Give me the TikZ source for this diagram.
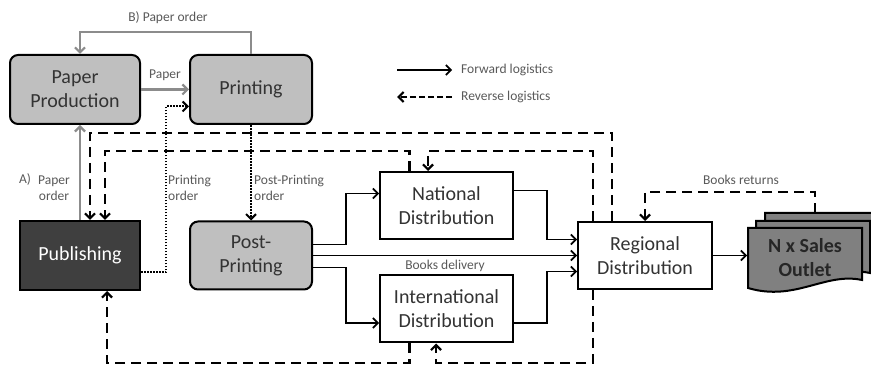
\documentclass[tikz,border=0pt]{standalone}
\usepackage{fontspec}
\setmainfont{Carlito}
\usetikzlibrary{arrows.meta}
\definecolor{boxgray}{HTML}{BFBFBF}
\definecolor{pubgray}{HTML}{3F3F3F}
\definecolor{outgray}{HTML}{808080}
\definecolor{linegray}{HTML}{8C8C8C}
\definecolor{txtgray}{HTML}{595959}
\definecolor{boxtxt}{HTML}{333333}

\newcommand{\salesdoc}[2]{%
	\filldraw[outlet, shift={(#1,#2)}] (748,228) -- (862,228) -- (862,280) .. controls (825,272) and (795,302) .. (748,288) -- cycle;}

\begin{document}
\begin{tikzpicture}[x=1pt, y=-1pt,
	big/.style={font=\fontsize{20}{24}\selectfont, text=boxtxt, align=center, inner sep=0pt, line width=2pt},
	stage/.style={big, draw, rounded corners=8pt, fill=boxgray},
	dist/.style={big, draw, fill=white, minimum width=133pt, minimum height=67pt},
	outlet/.style={draw, line width=2pt, fill=outgray},
	lbl/.style={font=\fontsize{13.5}{16}\selectfont, text=txtgray, align=left, inner sep=0pt},
	fwd/.style={line width=1.6pt, -{Straight Barb[length=5pt,width=10pt]}},
	rev/.style={line width=2.2pt, dash pattern=on 10pt off 6pt, -{Straight Barb[length=5pt,width=10pt]}},
	sup/.style={line width=2.2pt, draw=linegray, -{Straight Barb[length=5pt,width=10pt]}},
	ord/.style={line width=2pt, dash pattern=on 1.6pt off 1.4pt, -{Straight Barb[length=5pt,width=10pt]}}]
	\useasboundingbox (0,0) rectangle (871,366);

	\node[stage, minimum width=130pt, minimum height=69pt] (pp) at (75,89.5) {Paper\\Production};
	\node[stage, minimum width=122pt, minimum height=69pt] (prt) at (251,89.5) {Printing};
	\node[big, draw, fill=pubgray, text=white, minimum width=120pt, minimum height=69pt] (pub) at (80,255.5) {Publishing};
	\node[stage, minimum width=122pt, minimum height=68pt] (post) at (251,255.5) {Post-\\Printing};
	\node[dist] (nat) at (446.5,205.5) {National\\Distribution};
	\node[dist] (intl) at (446.5,309) {International\\Distribution};
	\node[dist, minimum width=134pt] (reg) at (645,255.5) {Regional\\Distribution};

	\salesdoc{17}{-15}
	\salesdoc{8}{-7}
	\salesdoc{0}{0}
	\node[big, font=\bfseries\fontsize{20}{24}\selectfont, text=black!85, minimum width=114pt, minimum height=60pt] (sales) at (805,258) {N x Sales\\Outlet};
	\coordinate (outtop) at (815,213);

	\draw[sup] (pp.east) -- (prt.west) node[lbl, midway, above=8pt] {Paper};
	\coordinate (bcorner) at (80,32);
	\draw[sup] (prt.north) |- (bcorner) -- (bcorner |- pp.north);
	\node[lbl] (bord) at (168,18) {B) Paper order};
	\draw[sup] (pub.north) -- (pub.north |- pp.south);
	\node[lbl] (alab) at (25,180) {A)};
	\node[lbl, align=center] (aord) at (54,188) {Paper\\order};

	\draw[ord] ([yshift=-17pt]pub.east) -- ++(25,0) |- ([yshift=-17pt]prt.west);
	\draw[ord] (prt.south) -- (post.north);
	\node[lbl, anchor=west] (prord) at (168,188) {Printing\\order};
	\node[lbl, anchor=west] (ppord) at (254,188) {Post-Printing\\order};

	\draw[fwd] ([yshift=11pt]post.east) -- ++(33,0) |- ([yshift=12pt]nat.west);
	\draw[fwd] (post.east) -- (reg.west) node[lbl, midway, below=4pt] {Books delivery};
	\draw[fwd] ([yshift=-12pt]post.east) -- ++(33,0) |- ([yshift=-14pt]intl.west);
	\draw[fwd] ([yshift=15pt]nat.east) -- ++(33,0) |- ([yshift=16pt]reg.west);
	\draw[fwd] ([yshift=-14pt]intl.east) -- ++(33,0) |- ([yshift=-16pt]reg.west);
	\draw[fwd] (reg.east) -- (reg.east -| sales.west);

	\coordinate (ca) at (90,133);
	\coordinate (cb) at (105,151);
	\coordinate (cc) at (428,151);
	\coordinate (cd) at (107,363);
	\coordinate (ce) at (436,363);
	\coordinate (cf) at (645,192);
	\draw[rev] ([xshift=-33pt]reg.north) |- (ca) -- (ca |- pub.north);
	\draw[rev] ([xshift=-37pt]nat.north) |- (cb) -- (cb |- pub.north);
	\draw[rev] ([xshift=-52pt]reg.north) |- (cc) -- (cc |- nat.north);
	\draw[rev] ([xshift=-37pt]intl.south) |- (cd) -- (cd |- pub.south);
	\draw[rev] ([xshift=-52pt]reg.south) |- (ce) -- (ce |- intl.south);
	\draw[rev] (outtop) |- (cf) -- (reg.north);
	\node[lbl] (bret) at (741,180) {Books returns};

	\node[lbl, anchor=west] (fwdlab) at (461,70) {Forward logistics};
	\node[lbl, anchor=west] (revlab) at (461,97) {Reverse logistics};
	\draw[fwd] ([xshift=-64pt]fwdlab.west) -- ([xshift=-9pt]fwdlab.west);
	\draw[rev, dash pattern=on 6pt off 3pt] ([xshift=-9pt]revlab.west) -- ([xshift=-64pt]revlab.west);
\end{tikzpicture}
\end{document}
